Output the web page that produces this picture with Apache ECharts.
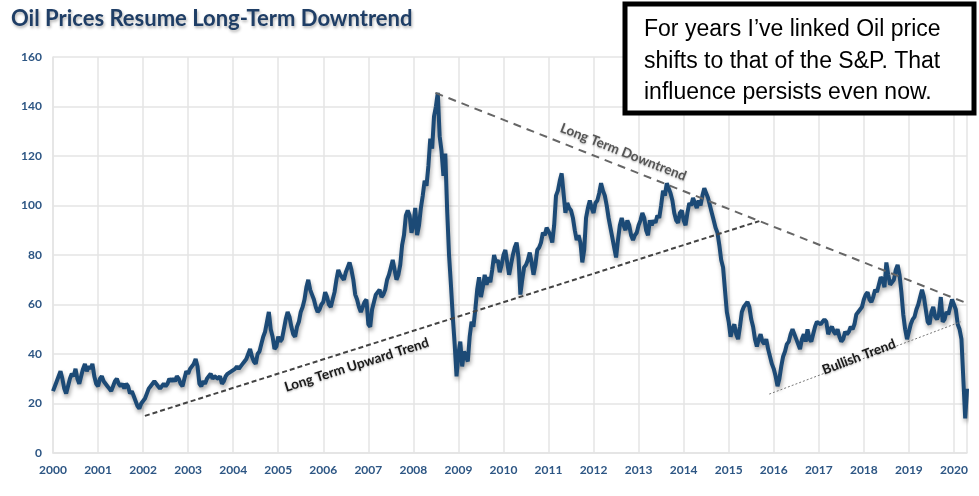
<!DOCTYPE html>
<html>
<head>
    <meta charset="UTF-8" />
    <title>Oil Prices</title>
    <script src="https://cdn.jsdelivr.net/npm/echarts@6/dist/echarts.min.js"></script>
    <style>
        html, body { margin: 0; padding: 0; background: #fff; }
        #main { width: 979px; height: 496px; }
    </style>
</head>
<body>
<div id="main"></div>
<script type="text/javascript">
    // oil price, two readings per month
    var p2000 = [25, 27, 29, 31, 33, 30, 26, 24, 27, 30, 32, 31, 34, 30, 28, 31, 34, 36, 33, 35, 34, 36, 31, 28];
    var p2001 = [27, 30, 31, 29, 28, 27, 26, 25, 27, 29, 30, 28, 27, 28, 26, 28, 27, 24, 25, 23, 21, 19, 18, 20];
    var p2002 = [21, 22, 24, 26, 27, 27, 29, 28, 27, 26, 27, 28, 27, 28, 30, 29, 30, 29, 31, 30, 28, 27, 30, 33];
    var p2003 = [32, 34, 35, 36, 38, 35, 28, 27, 29, 28, 30, 31, 32, 30, 31, 31, 30, 31, 28, 29, 31, 32, 32, 33];
    var p2004 = [33, 34, 35, 34, 35, 36, 37, 38, 40, 42, 39, 37, 36, 40, 41, 44, 47, 49, 53, 57, 50, 47, 42, 43];
    var p2005 = [47, 45, 46, 50, 54, 57, 55, 51, 48, 47, 51, 53, 57, 59, 62, 67, 70, 66, 64, 62, 59, 57, 58, 60];
    var p2006 = [61, 65, 63, 60, 59, 62, 65, 70, 74, 72, 71, 70, 73, 75, 77, 74, 70, 64, 62, 59, 57, 59, 61, 62];
    var p2007 = [52, 51, 58, 61, 64, 65, 66, 63, 64, 66, 70, 72, 75, 78, 74, 70, 72, 76, 84, 88, 96, 98, 96, 89];
    var p2008 = [92, 99, 88, 92, 99, 104, 110, 108, 116, 127, 123, 136, 140, 145.5, 128, 122, 112, 121, 98, 80, 68, 55, 44, 31];
    var p2009 = [40, 45, 35, 41, 39, 37, 47, 53, 51, 58, 66, 71, 63, 67, 72, 68, 71, 69, 74, 80, 77, 78, 73, 76];
    var p2010 = [80, 82, 77, 72, 76, 80, 83, 85, 79, 64, 70, 75, 76, 78, 81, 77, 72, 76, 82, 83, 85, 89, 88, 91];
    var p2011 = [91, 88, 85, 92, 104, 106, 110, 113, 105, 97, 101, 99, 98, 95, 90, 86, 88, 85, 77, 82, 95, 99, 102, 99];
    var p2012 = [97, 101, 102, 105, 109, 106, 104, 100, 95, 91, 87, 83, 79, 86, 92, 95, 92, 90, 94, 92, 88, 86, 88, 89];
    var p2013 = [92, 94, 97, 95, 90, 88, 94, 92, 94, 93, 96, 95, 100, 106, 104, 109, 107, 105, 102, 97, 94, 93, 97, 98];
    var p2014 = [94, 92, 97, 101, 100, 103, 101, 99, 102, 100, 104, 107, 105, 103, 100, 97, 94, 91, 89, 84, 78, 75, 66, 57];
    var p2015 = [53, 47, 50, 52, 48, 46, 51, 57, 59, 60, 61, 59, 54, 51, 46, 43, 46, 48, 45, 44, 46, 42, 39, 36];
    var p2016 = [34, 31, 27, 30, 35, 39, 41, 44, 45, 48, 50, 48, 46, 44, 42, 46, 48, 45, 50, 46, 45, 48, 51, 53];
    var p2017 = [53, 52, 53, 54, 53, 48, 50, 51, 49, 48, 50, 47, 45, 46, 49, 48, 49, 51, 50, 52, 56, 57, 58, 59];
    var p2018 = [62, 64, 65, 62, 61, 63, 66, 65, 68, 71, 70, 67, 77, 72, 68, 69, 70, 74, 76, 72, 65, 56, 50, 46];
    var p2019 = [49, 52, 54, 55, 58, 60, 63, 66, 63, 58, 53, 52, 57, 59, 55, 54, 56, 63, 53, 54, 57, 56, 59, 62];
    var p2020 = [62, 58, 52, 50, 46, 30, 14, 26];

    var years = [2000, 2001, 2002, 2003, 2004, 2005, 2006, 2007, 2008, 2009,
                 2010, 2011, 2012, 2013, 2014, 2015, 2016, 2017, 2018, 2019, 2020];
    var yearPrices = [p2000, p2001, p2002, p2003, p2004, p2005, p2006, p2007, p2008, p2009,
                      p2010, p2011, p2012, p2013, p2014, p2015, p2016, p2017, p2018, p2019, p2020];

    // trend lines, end points [year, price]
    var downTrend = [[2008.49, 145.5], [2020.29, 60.5]];
    var upTrend = [[2002.04, 15], [2015.68, 93.7]];
    var bullTrend = [[2015.9, 23.8], [2020.15, 53]];

    var priceData = [];
    for (var k = 0; k < years.length; k++) {
        for (var i = 0; i < yearPrices[k].length; i++) {
            priceData.push([years[k] + i / 24, yearPrices[k][i]]);
        }
    }

    var labelColor = '#2d5684';
    var gridColor = '#e4e4e4';

    var myChart = echarts.init(document.getElementById('main'));

    var option = {
        animation: false,
        backgroundColor: '#fff',
        title: {
            text: 'Oil Prices Resume Long-Term Downtrend',
            left: 6,
            top: 3,
            textStyle: {
                fontFamily: 'Lato',
                fontSize: 22,
                fontWeight: 'bold',
                color: '#1f3e66',
                textShadowColor: 'rgba(0,0,0,0.3)',
                textShadowBlur: 3,
                textShadowOffsetX: 1,
                textShadowOffsetY: 2
            }
        },
        grid: {
            left: 53,
            right: 12,
            top: 57,
            bottom: 43,
            containLabel: false
        },
        xAxis: {
            type: 'value',
            min: 2000,
            max: 2020.29,
            interval: 1,
            axisLine: { show: true, lineStyle: { color: gridColor, width: 1.5 } },
            axisTick: { show: false },
            splitLine: { show: true, lineStyle: { color: gridColor, width: 1.5 } },
            axisLabel: {
                color: labelColor,
                fontFamily: 'Lato',
                fontWeight: 'bold',
                fontSize: 12,
                margin: 11,
                showMaxLabel: false,
                formatter: function (v) { return String(v); }
            }
        },
        yAxis: {
            type: 'value',
            min: 0,
            max: 160,
            interval: 20,
            axisLine: { show: true, lineStyle: { color: gridColor, width: 1.5 } },
            axisTick: { show: false },
            splitLine: { show: true, lineStyle: { color: gridColor, width: 1.5 } },
            axisLabel: {
                color: labelColor,
                fontFamily: 'Lato',
                fontWeight: 'bold',
                fontSize: 12,
                margin: 11
            }
        },
        series: [
            {
                name: 'Oil',
                type: 'line',
                data: priceData,
                showSymbol: false,
                smooth: false,
                lineStyle: {
                    color: '#1c4a76',
                    width: 4,
                    shadowColor: 'rgba(0,0,0,0.35)',
                    shadowBlur: 4,
                    shadowOffsetX: 1,
                    shadowOffsetY: 3
                },
                z: 3
            },
            {
                name: 'Long Term Downtrend',
                type: 'line',
                data: downTrend,
                showSymbol: false,
                lineStyle: { color: '#666', width: 2, type: [8, 6] },
                z: 4
            },
            {
                name: 'Long Term Upward Trend',
                type: 'line',
                data: upTrend,
                showSymbol: false,
                lineStyle: { color: '#444', width: 2, type: [5, 3] },
                z: 4
            },
            {
                name: 'Bullish Trend',
                type: 'line',
                data: bullTrend,
                showSymbol: false,
                lineStyle: { color: '#777', width: 1, type: [2, 2] },
                z: 4
            }
        ]
    };

    myChart.setOption(option);

    // trend labels, anchored in data space
    function slopeAngle(seg) {
        var a = myChart.convertToPixel({ gridIndex: 0 }, seg[0]);
        var b = myChart.convertToPixel({ gridIndex: 0 }, seg[1]);
        return Math.atan2(a[1] - b[1], b[0] - a[0]);
    }
    function trendLabel(text, at, seg, color) {
        var p = myChart.convertToPixel({ gridIndex: 0 }, at);
        return {
            type: 'text',
            x: p[0],
            y: p[1],
            rotation: slopeAngle(seg),
            z: 10,
            style: {
                text: text,
                align: 'center',
                verticalAlign: 'middle',
                fill: color,
                font: 'bold 13.5px Lato',
                textShadowColor: 'rgba(0,0,0,0.3)',
                textShadowBlur: 2,
                textShadowOffsetY: 1
            }
        };
    }

    myChart.setOption({
        graphic: [
            trendLabel('Long Term Downtrend', [2012.66, 121.6], downTrend, '#555'),
            trendLabel('Long Term Upward Trend', [2006.74, 35.6], upTrend, '#1a1a1a'),
            trendLabel('Bullish Trend', [2017.89, 38.8], bullTrend, '#1a1a1a'),
            {
                type: 'rect',
                z: 20,
                shape: { x: 625, y: 4, width: 349, height: 109 },
                style: { fill: '#fff', stroke: '#000', lineWidth: 5 }
            },
            {
                type: 'text',
                z: 21,
                x: 644,
                y: 14,
                style: {
                    text: 'For years I\u2019ve linked Oil price\nshifts to that of the S&P. That\ninfluence persists even now.',
                    fill: '#000',
                    font: '23px "Liberation Sans", Arial, sans-serif',
                    lineHeight: 31.5
                }
            }
        ]
    });
</script>
</body>
</html>
